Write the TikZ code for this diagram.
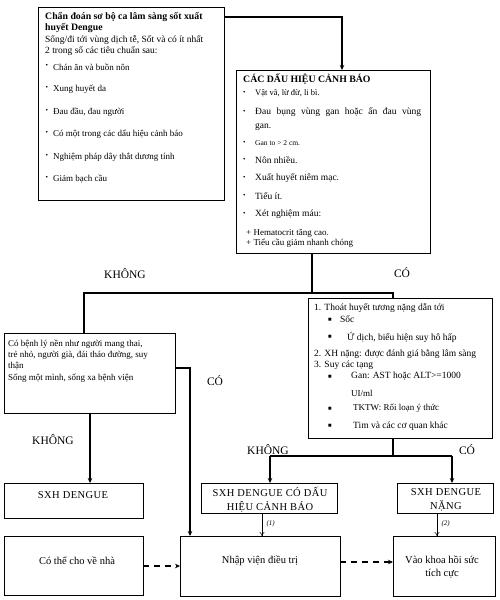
\documentclass[tikz,border=0pt]{standalone}
\usepackage{fontspec}
\setmainfont{Liberation Serif}
\newfontfamily\spacedfont[LetterSpace=4]{Liberation Serif}
\usetikzlibrary{arrows.meta}
\begin{document}
\begin{tikzpicture}[x=1pt,y=-1pt,
  box/.style={draw, line width=0.8pt, anchor=north west, inner sep=0pt, outer sep=0pt},
  t/.style={inner sep=0pt, anchor=west, font=\fontsize{9}{10}\selectfont},
  tm/.style={inner sep=0pt, anchor=west, font=\fontsize{9.5}{10}\selectfont},
  ts/.style={inner sep=0pt, anchor=west, font=\fontsize{8}{9}\selectfont},
  tb/.style={inner sep=0pt, anchor=west, font=\fontsize{9.8}{10}\selectfont\bfseries},
  lab/.style={inner sep=0pt, font=\fontsize{11.5}{12}\selectfont},
  ct/.style={inner sep=0pt, align=center, font=\fontsize{10.5}{13.5}\selectfont},
  cs/.style={inner sep=0pt, align=center, font=\fontsize{10.5}{14}\spacedfont},
  conn/.style={line width=1.2pt},
  arr/.style={line width=1.2pt, -{Stealth[length=5pt,width=4.5pt]}},
  thinarr/.style={line width=0.5pt, -{To[length=4pt,width=5pt]}},
  dasharr/.style={line width=1.2pt, dash pattern=on 6pt off 5pt, -{Stealth[length=5pt,width=4.5pt]}}]
\useasboundingbox[fill=white] (0,0) rectangle (500,600);

% boxes
\node[box, minimum width=186pt, minimum height=193pt] (b1) at (38,7) {};
\node[box, minimum width=194pt, minimum height=183pt] (b2) at (236,70) {};
\node[box, minimum width=171pt, minimum height=80pt] (b3) at (4,333) {};
\node[box, minimum width=184pt, minimum height=140pt] (b4) at (308,298) {};
\node[box, minimum width=139pt, minimum height=35pt] (b5) at (4,483) {};
\node[box, minimum width=139pt, minimum height=59pt] (b6) at (4,536) {};
\node[box, minimum width=136pt, minimum height=30pt] (b7) at (201,483) {};
\node[box, minimum width=96pt, minimum height=30pt] (b8) at (397,483) {};
\node[box, minimum width=160pt, minimum height=60pt] (b9) at (180,536) {};
\node[box, minimum width=102pt, minimum height=60pt] (b10) at (393,536) {};

% box 1 text
\node[tb] (t11) at (45,17) {Chẩn đoán sơ bộ ca lâm sàng sốt xuất};
\node[tb] (t12) at (45,28) {huyết Dengue};
\node[tm] (t13) at (45,40) {Sống/đi tới vùng dịch tễ, Sốt và có ít nhất};
\node[tm] (t14) at (45,51) {2 trong số các tiêu chuẩn sau:};
\foreach \y/\s [count=\i] in {67/Chán ăn và buồn nôn, 89/Xung huyết da, 112/{Đau đầu, đau người}, 134/Có một trong các dấu hiệu cảnh báo, 157/Nghiệm pháp dây thắt dương tính, 179/Giảm bạch cầu}{
  \node[t] (bb\i) at (45.5,\y-1) {\fontsize{7}{7}\selectfont •};
  \node[t] (bt\i) at (53,\y) {\s};
}

% box 2 text
\node[tb] (t21) at (243,79) {CÁC DẤU HIỆU CẢNH BÁO};
\foreach \y/\s [count=\i] in {93/{\fontsize{8.5}{9}\selectfont Vật vã, lừ đừ, li bì.}, 112/{\makebox[166pt][s]{Đau bụng vùng gan hoặc ấn đau vùng}}, 143/{\fontsize{7.5}{9}\selectfont Gan to > 2 cm.}, 160/Nôn nhiều., 178/Xuất huyết niêm mạc., 196/Tiểu ít., 214/Xét nghiệm máu:}{
  \node[t] (cb\i) at (243,\y) {\fontsize{7}{7}\selectfont •};
  \node[tm] (ct\i) at (255,\y) {\s};
}
\node[tm] (t22) at (255,127) {gan.};
\node[t] (t23) at (246,233) {+ Hematocrit tăng cao.};
\node[t] (t24) at (246,243) {+ Tiểu cầu giảm nhanh chóng};

% box 3 text
\node[t] (t31) at (8,344) {Có bệnh lý nền như người mang thai,};
\node[t] (t32) at (8,355) {trẻ nhỏ, người già, đái tháo đường, suy};
\node[t] (t33) at (8,366) {thận};
\node[t] (t34) at (8,378) {Sống một mình, sống xa bệnh viện};

% box 4 text
\node[tm] (t41) at (314,308) {1. Thoát huyết tương nặng dẫn tới};
\node[t] (q1) at (328,320) {\fontsize{6}{6}\selectfont ■};
\node[tm] (t42) at (340,319) {Sốc};
\node[t] (q2) at (328,337) {\fontsize{6}{6}\selectfont ■};
\node[tm] (t43) at (347,337) {Ứ dịch, biểu hiện suy hô hấp};
\node[tm] (t44) at (314,354) {2. XH nặng: được đánh giá bằng lâm sàng};
\node[tm] (t45) at (314,365) {3. Suy các tạng};
\node[t] (q3) at (328,377) {\fontsize{6}{6}\selectfont ■};
\node[tm] (t46) at (351,376) {Gan: AST hoặc ALT>=1000};
\node[t] (t47) at (351,393) {UI/ml};
\node[t] (q4) at (328,409) {\fontsize{6}{6}\selectfont ■};
\node[t] (t48) at (353,408) {TKTW: Rối loạn ý thức};
\node[t] (q5) at (328,426) {\fontsize{6}{6}\selectfont ■};
\node[tm] (t49) at (353,426) {Tim và các cơ quan khác};

% bottom box texts
\node[cs] (t5) at (73,495) {SXH DENGUE};
\node[ct] (t6) at (77,561) {Có thể cho về nhà};
\node[cs] (t7) at (270,500) {SXH DENGUE CÓ DẤU\\HIỆU CẢNH BÁO};
\node[cs] (t8) at (446,500) {SXH DENGUE\\NẶNG};
\node[ct] (t9) at (260,561) {Nhập viện điều trị};
\node[ct] (t10) at (442,567) {Vào khoa hồi sức\\tích cực};

% labels
\node[lab] (l1) at (125,274) {KHÔNG};
\node[lab] (l2) at (402,273) {CÓ};
\node[lab] (l3) at (215,381) {CÓ};
\node[lab] (l4) at (53,440) {KHÔNG};
\node[lab] (l5) at (268,450) {KHÔNG};
\node[lab] (l6) at (467,450) {CÓ};

% connectors
\coordinate (c1) at (224,17);
\coordinate (c2) at (342,17);
\draw[arr] (c1) -- (c2) -- (b2.north -| c2);
\coordinate (j1) at (312,293);
\coordinate (jl) at (84,293);
\coordinate (jr) at (393,293);
\draw[conn] (b2.south -| j1) -- (j1);
\draw[conn] (b3.north -| jl) -- (jl) -- (jr) -- (b4.north -| jr);
\coordinate (c3) at (175,368);
\coordinate (c4) at (190,368);
\draw[arr] (c3) -- (c4) -- (b9.north -| c4);
\coordinate (c5) at (90,413);
\draw[arr] (c5) -- (b5.north -| c5);
\coordinate (j2) at (393,456);
\coordinate (j2l) at (270,456);
\coordinate (j2r) at (452,456);
\draw[conn] (b4.south -| j2) -- (j2);
\draw[conn] (j2l) -- (j2r);
\draw[arr] (j2l) -- (b7.north -| j2l);
\draw[arr] (j2r) -- (b8.north -| j2r);
\coordinate (c6) at (262,513);
\coordinate (c7) at (437,513);
\draw[thinarr] (c6) -- (b9.north -| c6) node[pos=0.45, right=1pt, font=\fontsize{7}{8}\selectfont\itshape] (n1) {(1)};
\draw[thinarr] (c7) -- (b10.north -| c7) node[pos=0.45, right=1pt, font=\fontsize{7}{8}\selectfont\itshape] (n2) {(2)};
\coordinate (c8) at (143,566);
\draw[dasharr] (c8) -- (b9.west |- c8);
\coordinate (c9) at (340,562);
\draw[dasharr] (c9) -- (b10.west |- c9);
\end{tikzpicture}
\end{document}
